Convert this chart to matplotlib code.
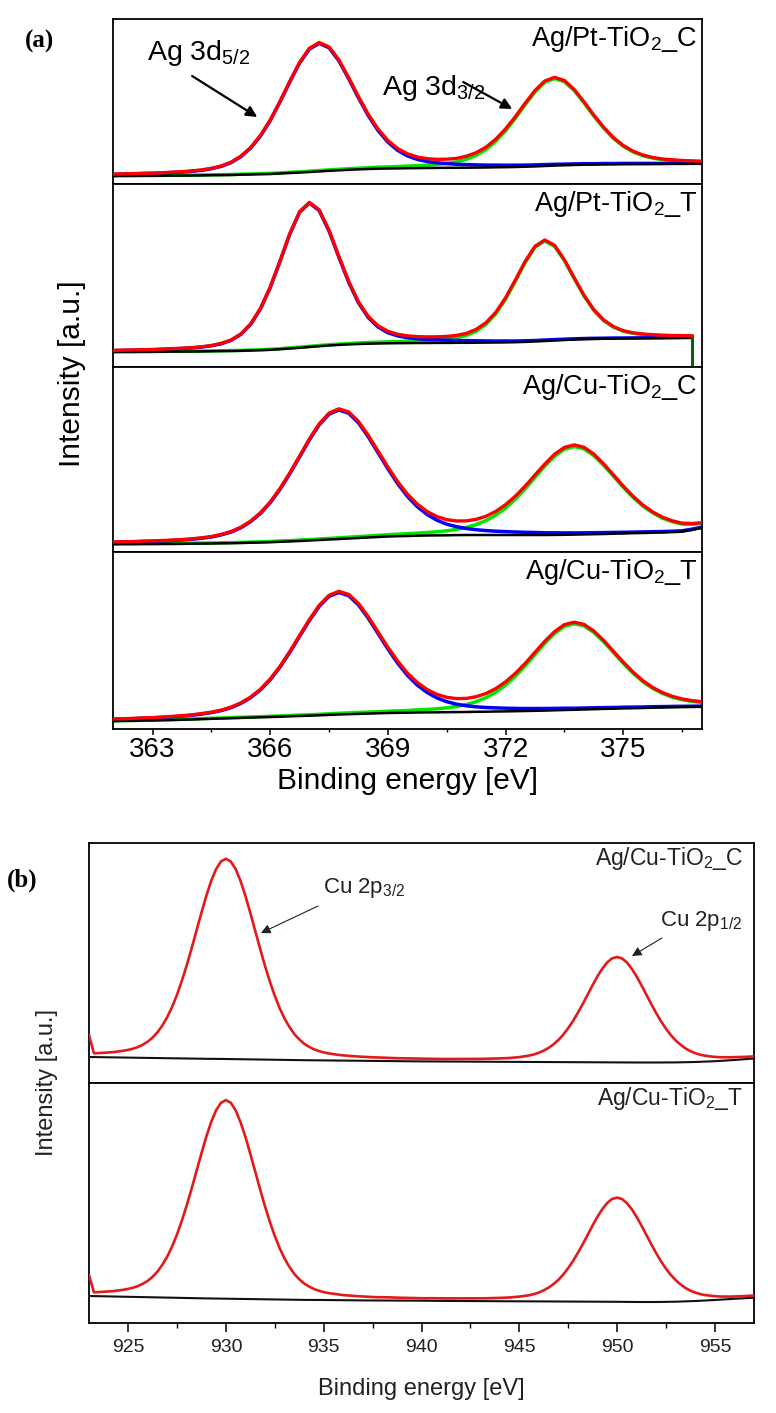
import numpy as np
import matplotlib
matplotlib.use("Agg")
import matplotlib.pyplot as plt
from matplotlib.ticker import MultipleLocator

plt.rcParams['font.family'] = ['Liberation Sans', 'DejaVu Sans']
plt.rcParams['mathtext.fontset'] = 'custom'
plt.rcParams['mathtext.rm'] = 'Liberation Sans'
plt.rcParams['mathtext.it'] = 'Liberation Sans:italic'
plt.rcParams['mathtext.bf'] = 'Liberation Sans:bold'
plt.rcParams['mathtext.sf'] = 'Liberation Sans'

# ======================= DATA =======================
# ---- panel (a): Ag 3d region, intensities in a.u. ----
ag_energy = np.arange(362.0, 377.001, 0.25)          # binding-energy grid [eV]
ag_ticks = [363, 366, 369, 372, 375]
ag_titles = ["Ag/Pt-TiO$_2$_C", "Ag/Pt-TiO$_2$_T", "Ag/Cu-TiO$_2$_C", "Ag/Cu-TiO$_2$_T"]

# Ag/Pt-TiO2_C
ptc_background = [8.0, 8.1, 8.1, 8.2, 8.2, 8.3, 8.4, 8.4, 8.5, 8.6, 8.8, 8.9, 9.0, 9.3, 9.5, 9.8,
                  10.0, 10.5, 11.0, 11.5, 12.0, 12.6, 13.2, 13.7, 14.2, 14.6, 15.0, 15.3, 15.5, 15.6,
                  15.8, 15.9, 16.0, 16.1, 16.2, 16.2, 16.3, 16.4, 16.5, 16.7, 16.8, 17.0, 17.3, 17.6,
                  18.0, 18.4, 18.7, 19.0, 19.3, 19.4, 19.6, 19.7, 19.8, 19.9, 19.9, 20.0, 20.0, 20.1,
                  20.1, 20.2, 20.2]
ptc_ag3d52 = [1.6, 1.8, 2.0, 2.2, 2.4, 2.7, 3.1, 3.5, 4.2, 5.1, 6.5, 8.7, 12.3, 18.0, 26.4, 38.1,
              53.4, 71.6, 91.1, 109.5, 123.0, 128.0, 123.0, 109.5, 91.1, 71.6, 53.4, 38.1, 26.4,
              18.0, 12.3, 8.7, 6.5, 5.1, 4.2, 3.5, 3.1, 2.7, 2.4, 2.2, 2.0, 1.8, 1.6, 1.5, 1.4,
              1.3, 1.2, 1.1, 1.0, 0.9, 0.9, 0.8, 0.8, 0.7, 0.7, 0.6, 0.6, 0.6, 0.6, 0.5, 0.5]
ptc_ag3d32 = [0.3, 0.3, 0.3, 0.3, 0.3, 0.3, 0.3, 0.4, 0.4, 0.4, 0.4, 0.4, 0.5, 0.5, 0.5, 0.6, 0.6,
              0.6, 0.7, 0.7, 0.8, 0.9, 0.9, 1.0, 1.1, 1.2, 1.3, 1.5, 1.6, 1.8, 2.1, 2.4, 2.8, 3.5,
              4.4, 5.9, 8.4, 12.2, 17.9, 25.9, 36.3, 48.6, 61.9, 74.4, 83.6, 87.0, 83.6, 74.4,
              61.9, 48.6, 36.3, 25.9, 17.9, 12.2, 8.4, 5.9, 4.4, 3.5, 2.8, 2.4, 2.1]

# Ag/Pt-TiO2_T (spectrum ends at 376.75 eV)
ptt_background = [15.0, 15.1, 15.1, 15.2, 15.2, 15.3, 15.4, 15.4, 15.5, 15.6, 15.8, 15.9, 16.0,
                  16.2, 16.5, 16.8, 17.2, 17.8, 18.5, 19.2, 20.0, 20.8, 21.5, 22.1, 22.6, 23.0,
                  23.3, 23.5, 23.7, 23.8, 23.9, 24.0, 24.0, 24.1, 24.1, 24.2, 24.2, 24.3, 24.4,
                  24.5, 24.6, 24.8, 25.1, 25.5, 26.0, 26.5, 27.0, 27.4, 27.8, 28.0, 28.2, 28.4,
                  28.5, 28.6, 28.7, 28.8, 28.9, 29.0, 29.1, 29.2]
ptt_ag3d52 = [1.4, 1.5, 1.7, 1.9, 2.1, 2.3, 2.7, 3.1, 3.6, 4.3, 5.4, 7.3, 10.6, 16.4, 26.1, 41.2,
              62.2, 87.8, 114.4, 135.6, 144.0, 135.6, 114.4, 87.8, 62.2, 41.2, 26.1, 16.4, 10.6,
              7.3, 5.4, 4.3, 3.6, 3.1, 2.7, 2.3, 2.1, 1.9, 1.7, 1.5, 1.4, 1.2, 1.1, 1.0, 1.0, 0.9,
              0.8, 0.8, 0.7, 0.7, 0.6, 0.6, 0.5, 0.5, 0.5, 0.5, 0.4, 0.4, 0.4, 0.4]
ptt_ag3d32 = [0.2, 0.2, 0.2, 0.2, 0.2, 0.3, 0.3, 0.3, 0.3, 0.3, 0.3, 0.4, 0.4, 0.4, 0.4, 0.5, 0.5,
              0.5, 0.6, 0.6, 0.7, 0.7, 0.8, 0.8, 0.9, 1.0, 1.2, 1.3, 1.5, 1.6, 1.9, 2.1, 2.5, 3.0,
              3.8, 5.1, 7.3, 11.4, 18.2, 28.6, 43.2, 61.0, 79.4, 94.2, 100.0, 94.2, 79.4, 61.0,
              43.2, 28.6, 18.2, 11.4, 7.3, 5.1, 3.8, 3.0, 2.5, 2.1, 1.9, 1.6]

# Ag/Cu-TiO2_C
cuc_background = [7.8, 7.9, 7.9, 8.0, 8.0, 8.1, 8.1, 8.2, 8.3, 8.4, 8.5, 8.7, 8.8, 9.0, 9.3, 9.5,
                  9.8, 10.2, 10.6, 11.0, 11.5, 12.0, 12.5, 13.0, 13.5, 14.0, 14.5, 15.0, 15.5, 15.8,
                  16.0, 16.3, 16.5, 16.6, 16.7, 16.9, 17.0, 17.0, 17.0, 17.0, 17.0, 17.0, 17.0,
                  17.0, 17.0, 17.1, 17.2, 17.4, 17.6, 17.8, 18.0, 18.3, 18.5, 18.8, 19.0, 19.3,
                  19.5, 19.9, 20.3, 22.0, 24.0]
cuc_ag3d52 = [1.9, 2.1, 2.2, 2.5, 2.7, 3.0, 3.4, 3.8, 4.4, 5.3, 6.5, 8.4, 11.1, 15.2, 21.0, 29.0,
              39.5, 52.5, 67.7, 84.2, 100.7, 115.2, 125.3, 129.0, 125.3, 115.2, 100.7, 84.2, 67.7,
              52.5, 39.5, 29.0, 21.0, 15.2, 11.1, 8.4, 6.5, 5.3, 4.4, 3.8, 3.4, 3.0, 2.7, 2.5,
              2.2, 2.1, 1.9, 1.7, 1.6, 1.5, 1.4, 1.3, 1.2, 1.1, 1.1, 1.0, 1.0, 0.9, 0.9, 0.8, 0.8]
cuc_ag3d32 = [0.3, 0.3, 0.3, 0.4, 0.4, 0.4, 0.4, 0.4, 0.5, 0.5, 0.5, 0.5, 0.6, 0.6, 0.6, 0.7, 0.7,
              0.8, 0.8, 0.9, 0.9, 1.0, 1.1, 1.2, 1.3, 1.4, 1.5, 1.7, 1.8, 2.0, 2.3, 2.6, 3.0, 3.6,
              4.5, 5.7, 7.6, 10.4, 14.3, 19.8, 26.9, 35.8, 46.2, 57.5, 68.7, 78.6, 85.5, 88.0,
              85.5, 78.6, 68.7, 57.5, 46.2, 35.8, 26.9, 19.8, 14.3, 10.4, 7.6, 5.7, 4.5]

# Ag/Cu-TiO2_T
cut_background = [7.9, 8.1, 8.2, 8.4, 8.5, 8.8, 9.0, 9.3, 9.5, 9.9, 10.2, 10.5, 10.8, 11.1, 11.4,
                  11.7, 12.0, 12.3, 12.7, 13.0, 13.3, 13.7, 14.1, 14.5, 14.8, 15.1, 15.4, 15.7,
                  16.0, 16.2, 16.3, 16.5, 16.6, 16.7, 16.8, 16.9, 17.0, 17.2, 17.3, 17.5, 17.6,
                  17.8, 18.0, 18.2, 18.4, 18.7, 19.0, 19.2, 19.5, 19.8, 20.1, 20.3, 20.6, 20.8,
                  21.0, 21.3, 21.5, 21.7, 21.9, 22.0, 22.2]
cut_ag3d52 = [1.8, 1.9, 2.1, 2.3, 2.5, 2.8, 3.2, 3.6, 4.2, 5.0, 6.2, 7.9, 10.5, 14.4, 19.9, 27.4,
              37.3, 49.6, 64.0, 79.7, 95.3, 109.0, 118.5, 122.0, 118.5, 109.0, 95.3, 79.7, 64.0,
              49.6, 37.3, 27.4, 19.9, 14.4, 10.5, 7.9, 6.2, 5.0, 4.2, 3.6, 3.2, 2.8, 2.5, 2.3,
              2.1, 1.9, 1.8, 1.6, 1.5, 1.4, 1.3, 1.2, 1.2, 1.1, 1.0, 1.0, 0.9, 0.9, 0.8, 0.8, 0.7]
cut_ag3d32 = [0.3, 0.3, 0.3, 0.4, 0.4, 0.4, 0.4, 0.4, 0.5, 0.5, 0.5, 0.5, 0.6, 0.6, 0.6, 0.7, 0.7,
              0.8, 0.8, 0.9, 0.9, 1.0, 1.1, 1.2, 1.3, 1.4, 1.5, 1.6, 1.8, 2.0, 2.2, 2.6, 3.0, 3.5,
              4.4, 5.6, 7.4, 10.1, 14.0, 19.3, 26.3, 35.0, 45.1, 56.2, 67.2, 76.8, 83.6, 86.0,
              83.6, 76.8, 67.2, 56.2, 45.1, 35.0, 26.3, 19.3, 14.0, 10.1, 7.4, 5.6, 4.4]

# ---- panel (b): Cu 2p region, intensities in a.u. ----
cu_energy = np.arange(923.0, 957.001, 0.25)          # envelope grid [eV]
cu_bg_energy = np.arange(923.0, 957.001, 1.0)        # background grid [eV]
cu_ticks = [925, 930, 935, 940, 945, 950, 955]
cu_titles = ["Ag/Cu-TiO$_2$_C", "Ag/Cu-TiO$_2$_T"]

cu_c_envelope = [48.0, 29.7, 29.9, 30.2, 30.5, 30.9, 31.5, 32.2, 33.1, 34.3,
                 36.0, 38.3, 41.3, 45.4, 50.7, 57.5, 65.9, 76.1, 88.3, 102.3,
                 117.9, 134.9, 152.7, 170.4, 187.3, 202.2, 214.0, 221.6, 224.2, 221.5,
                 213.8, 201.9, 187.0, 169.9, 152.0, 134.2, 117.0, 101.2, 87.1, 74.8,
                 64.4, 55.9, 48.9, 43.6, 39.3, 36.2, 33.7, 32.0, 30.6, 29.6,
                 28.8, 28.1, 27.6, 27.2, 26.8, 26.5, 26.2, 25.9, 25.7, 25.5,
                 25.3, 25.2, 25.0, 24.8, 24.7, 24.6, 24.5, 24.3, 24.2, 24.2,
                 24.2, 24.1, 24.0, 24.0, 24.0, 24.0, 24.0, 24.0, 24.0, 23.9,
                 24.1, 24.2, 24.3, 24.5, 24.6, 24.8, 25.0, 25.4, 25.9, 26.6,
                 27.4, 28.6, 30.2, 32.4, 35.1, 38.7, 43.0, 48.4, 54.8, 62.1,
                 70.4, 79.2, 88.6, 97.9, 106.8, 114.5, 120.7, 124.7, 126.0, 124.6,
                 120.6, 114.3, 106.5, 97.6, 88.2, 78.8, 69.9, 61.6, 54.2, 47.8,
                 42.5, 38.2, 34.6, 31.9, 29.8, 28.3, 27.3, 26.6, 26.1, 25.8,
                 25.7, 25.7, 25.8, 26.0, 26.1, 26.3, 26.6]
cu_c_background = [26.0, 25.7, 25.4, 25.1, 24.8, 24.5, 24.2, 24.0, 23.7, 23.4, 23.1, 22.8, 22.6,
                   22.4, 22.2, 22.0, 21.8, 21.6, 21.5, 21.4, 21.3, 21.2, 21.1, 21.0, 20.9, 20.8,
                   20.7, 20.6, 20.5, 20.5, 20.6, 21.0, 21.8, 23.0, 24.5]

cu_t_envelope = [48.0, 30.7, 30.9, 31.2, 31.5, 31.9, 32.5, 33.2, 34.1, 35.3,
                 36.9, 39.2, 42.1, 46.2, 51.4, 58.2, 66.4, 76.5, 88.6, 102.4,
                 117.9, 134.6, 152.2, 169.7, 186.5, 201.2, 212.8, 220.3, 222.9, 220.2,
                 212.6, 200.7, 186.0, 169.0, 151.3, 133.6, 116.6, 100.9, 87.0, 74.8,
                 64.4, 56.0, 49.0, 43.8, 39.5, 36.5, 34.0, 32.3, 30.9, 29.9,
                 29.2, 28.4, 27.9, 27.5, 27.1, 26.8, 26.5, 26.2, 26.0, 25.8,
                 25.8, 25.7, 25.5, 25.3, 25.2, 25.1, 25.0, 24.8, 24.7, 24.7,
                 24.8, 24.7, 24.6, 24.6, 24.6, 24.6, 24.6, 24.6, 24.6, 24.5,
                 24.6, 24.7, 24.8, 25.0, 25.1, 25.3, 25.5, 25.9, 26.4, 27.0,
                 27.7, 28.9, 30.5, 32.7, 35.4, 38.9, 43.2, 48.5, 54.9, 62.1,
                 70.3, 79.0, 88.4, 97.6, 106.4, 114.0, 120.1, 124.1, 125.4, 124.0,
                 120.0, 113.8, 106.1, 97.3, 88.0, 78.6, 69.8, 61.6, 54.3, 48.0,
                 42.8, 38.5, 35.0, 32.3, 30.4, 28.9, 27.9, 27.3, 26.8, 26.5,
                 26.4, 26.4, 26.5, 26.7, 26.9, 27.1, 27.4]
cu_t_background = [27.0, 26.6, 26.2, 25.8, 25.4, 25.0, 24.6, 24.3, 24.0, 23.7, 23.4, 23.1, 23.0,
                   22.8, 22.6, 22.5, 22.4, 22.3, 22.1, 22.0, 21.9, 21.8, 21.7, 21.6, 21.5, 21.4,
                   21.3, 21.2, 21.0, 21.0, 21.3, 22.0, 23.0, 24.2, 25.3]

# ======================= FIGURE =======================
W, H = 776, 1413
fig = plt.figure(figsize=(W / 100, H / 100), dpi=100)


def px_axes(left, top, right, bottom):
    return fig.add_axes([left / W, 1 - bottom / H, (right - left) / W, (bottom - top) / H])


def fx(x):
    return x / W


def fy(y):
    return 1 - y / H


RED, BLUE, GREEN, BLACK = '#ff0000', '#0000ff', '#00e600', '#000000'

# ---------------- panel (a) ----------------
a_frames = [(19, 184), (184, 367), (367, 552), (552, 729)]
a_sets = [(ptc_background, ptc_ag3d52, ptc_ag3d32),
          (ptt_background, ptt_ag3d52, ptt_ag3d32),
          (cuc_background, cuc_ag3d52, cuc_ag3d32),
          (cut_background, cut_ag3d52, cut_ag3d32)]
AL, AR = 113.3, 701.7
a_axes = []
for k, ((top, bot), (bg, c52, c32), title) in enumerate(zip(a_frames, a_sets, ag_titles)):
    ax = px_axes(AL, top, AR, bot)
    h = bot - top
    bg = np.asarray(bg); c52 = np.asarray(c52); c32 = np.asarray(c32)
    e = ag_energy[:len(bg)]
    ax.plot(e, bg + c32, color=GREEN, lw=2.5, zorder=2)
    ax.plot(e, bg + c52, color=BLUE, lw=2.5, zorder=3)
    ax.plot(e, bg, color=BLACK, lw=1.8, zorder=4)
    ax.plot(e, bg + c52 + c32, color=RED, lw=2.4, zorder=5)
    if len(bg) < len(ag_energy):
        ax.plot([e[-1], e[-1]], [bg[-1] + c32[-1], 0], color='#0b5e0b', lw=2.2, zorder=4)
    ax.set_xlim(362, 377)
    ax.set_ylim(0, h)
    ax.set_yticks([])
    for s in ax.spines.values():
        s.set_linewidth(1.3)
    ax.text(1 - 4 / (AR - AL), 1 - 27 / h, title, transform=ax.transAxes,
            ha='right', va='baseline', fontsize=19.5)
    if k < 3:
        ax.tick_params(bottom=False, labelbottom=False)
    else:
        ax.set_xticks(ag_ticks)
        ax.xaxis.set_minor_locator(MultipleLocator(1.5))
        ax.tick_params(axis='x', which='major', direction='out', length=4.2, width=1.1,
                       pad=1.5, labelsize=20)
        ax.tick_params(axis='x', which='minor', direction='out', length=2.4, width=1.0)
    a_axes.append(ax)

ax1 = a_axes[0]
ax1.text(362.86, 124, "Ag 3d$_{5/2}$", ha='left', va='baseline', fontsize=20.5)
ax1.annotate('', xy=(365.67, 67), xytext=(364.01, 108),
             arrowprops=dict(arrowstyle='-|>', color='black', lw=1.6,
                             mutation_scale=16, shrinkA=0, shrinkB=0))
ax1.text(368.86, 89, "Ag 3d$_{3/2}$", ha='left', va='baseline', fontsize=20.5, zorder=6)
ax1.annotate('', xy=(372.17, 75), xytext=(370.92, 102),
             arrowprops=dict(arrowstyle='-|>', color='black', lw=1.6,
                             mutation_scale=16, shrinkA=0, shrinkB=0))

fig.text(fx((AL + AR) / 2), fy(789), "Binding energy [eV]", ha='center', va='baseline',
         fontsize=21.5)
fig.text(fx(72), fy(374), "Intensity [a.u.]", rotation=90, ha='center', va='center',
         fontsize=21.5)
fig.text(fx(40), fy(41), "(a)", ha='center', va='center', fontsize=18, fontweight='bold',
         family=['Liberation Serif', 'DejaVu Serif'])

# ---------------- panel (b) ----------------
b_frames = [(843, 1083), (1083, 1323)]
b_sets = [(cu_c_envelope, cu_c_background), (cu_t_envelope, cu_t_background)]
BL, BR = 89, 754
b_axes = []
for k, ((top, bot), (env, bg), title) in enumerate(zip(b_frames, b_sets, cu_titles)):
    ax = px_axes(BL, top, BR, bot)
    h = bot - top
    ax.plot(cu_bg_energy, bg, color='#111111', lw=1.5, zorder=3)
    ax.plot(cu_energy, env, color='#e3191c', lw=1.9, zorder=4)
    ax.set_xlim(923, 957)
    ax.set_ylim(0, h)
    ax.set_yticks([])
    for s in ax.spines.values():
        s.set_linewidth(1.3)
    ax.text(1 - 11 / (BR - BL), 1 - 22 / h, title, transform=ax.transAxes,
            ha='right', va='baseline', fontsize=16.5, color='#222222')
    if k == 0:
        ax.tick_params(bottom=False, labelbottom=False)
    else:
        ax.set_xticks(cu_ticks)
        ax.xaxis.set_minor_locator(MultipleLocator(2.5))
        ax.tick_params(axis='x', which='major', direction='out', length=6.5, width=1.1,
                       pad=5, labelsize=14, labelcolor='#222222')
        ax.tick_params(axis='x', which='minor', direction='out', length=3.6, width=1.0)
    b_axes.append(ax)

bx1 = b_axes[0]
bx1.text(934.96, 190, "Cu 2p$_{3/2}$", ha='left', va='baseline', fontsize=16, color='#222222')
bx1.annotate('', xy=(931.79, 150), xytext=(934.71, 177),
             arrowprops=dict(arrowstyle='-|>', color='#222222', lw=0.8,
                             mutation_scale=14, shrinkA=0, shrinkB=0))
bx1.text(952.19, 157, "Cu 2p$_{1/2}$", ha='left', va='baseline', fontsize=16, color='#222222')
bx1.annotate('', xy=(950.76, 127), xytext=(952.29, 145),
             arrowprops=dict(arrowstyle='-|>', color='#222222', lw=0.8,
                             mutation_scale=14, shrinkA=0, shrinkB=0))

fig.text(fx((BL + BR) / 2), fy(1395), "Binding energy [eV]", ha='center', va='baseline',
         fontsize=17, color='#222222')
fig.text(fx(47), fy(1083), "Intensity [a.u.]", rotation=90, ha='center', va='center',
         fontsize=17, color='#222222')
fig.text(fx(22), fy(880), "(b)", ha='center', va='center', fontsize=18, fontweight='bold',
         family=['Liberation Serif', 'DejaVu Serif'])

fig.savefig("out.png", dpi=100)
